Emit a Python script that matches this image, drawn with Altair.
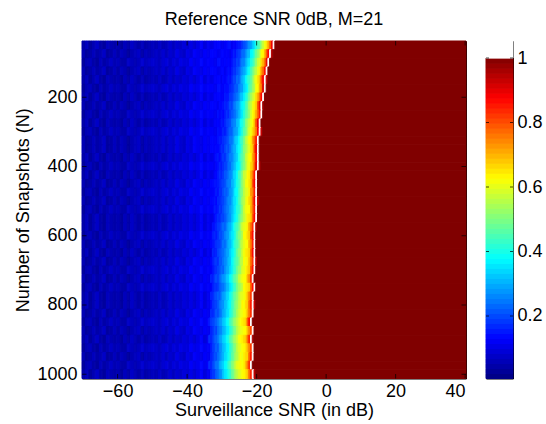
import altair as alt
import numpy as np
import pandas as pd

FONT = "Liberation Sans"
title_text = "Reference SNR 0dB, M=21"
x_title = "Surveillance SNR (in dB)"
y_title = "Number of Snapshots (N)"

# grid of the image (SNR in 0.5 dB steps, N in steps of 25)
snr_grid = np.arange(-70.0, 40.0001, 0.5)
n_grid = list(range(50, 1001, 25))

# column (SNR) of the white boundary cell, per row
white_snr = [-15.0, -16.0, -16.5, -17.0, -17.5, -17.5, -18.0, -18.5, -18.5, -19.0,
             -19.0, -19.5, -19.5, -19.5, -19.5, -20.0, -20.0, -20.0, -20.0, -20.0,
             -20.0, -20.5, -20.5, -20.5, -20.5, -20.5, -20.5, -21.0, -20.5, -21.0,
             -21.0, -21.0, -21.5, -21.0, -21.5, -21.0, -21.0, -21.5, -21.0]
# value (percent) of the cell just right of the white cell
after_white = [100, 95, 100, 100, 94, 100, 100, 97, 100, 100,
               93, 100, 100, 100, 96, 100, 100, 100, 94, 100,
               100, 97, 100, 100, 100, 95, 100, 100, 100, 100,
               93, 100, 100, 100, 96, 100, 100, 100, 94]
# values (percent) of the 24 cells left of the white cell, per row
ramps = [
    [11, 12, 12, 14, 15, 15, 18, 20, 21, 24, 27, 28, 32, 35, 40, 44, 46, 53, 57, 61, 65, 71, 78, 89],
    [12, 11, 13, 15, 14, 17, 18, 19, 23, 23, 26, 30, 31, 37, 38, 43, 48, 51, 55, 62, 63, 69, 79, 87],
    [12, 13, 12, 14, 16, 16, 19, 18, 22, 25, 25, 29, 33, 35, 40, 42, 47, 52, 57, 59, 66, 70, 76, 90],
    [11, 12, 14, 13, 15, 17, 17, 20, 21, 24, 27, 29, 31, 36, 39, 44, 48, 53, 56, 60, 64, 72, 77, 86],
    [13, 12, 13, 15, 14, 16, 19, 19, 23, 22, 26, 30, 32, 37, 41, 43, 46, 51, 58, 61, 65, 69, 80, 88],
    [12, 14, 13, 14, 16, 17, 18, 21, 21, 25, 27, 28, 33, 35, 38, 45, 47, 52, 55, 62, 63, 71, 76, 91],
    [12, 12, 15, 14, 15, 18, 18, 20, 22, 24, 26, 31, 32, 36, 40, 43, 49, 53, 57, 60, 66, 70, 78, 87],
    [13, 13, 14, 16, 15, 17, 20, 19, 23, 25, 28, 29, 34, 37, 39, 44, 47, 54, 56, 61, 64, 68, 79, 89],
    [12, 14, 13, 15, 17, 16, 19, 21, 22, 24, 27, 30, 33, 36, 41, 45, 48, 52, 58, 62, 65, 71, 77, 86],
    [13, 12, 15, 14, 16, 18, 19, 20, 24, 25, 26, 31, 32, 38, 40, 43, 50, 53, 57, 60, 63, 69, 80, 90],
    [14, 13, 14, 16, 15, 17, 20, 22, 22, 26, 28, 29, 34, 36, 41, 46, 48, 54, 59, 61, 66, 70, 76, 88],
    [12, 14, 15, 15, 17, 18, 19, 21, 24, 24, 27, 32, 33, 37, 42, 44, 49, 55, 58, 63, 64, 72, 78, 85],
    [13, 13, 14, 17, 16, 19, 21, 20, 23, 26, 29, 30, 35, 38, 40, 45, 51, 53, 57, 60, 65, 68, 81, 89],
    [14, 15, 13, 16, 18, 17, 20, 22, 25, 25, 28, 31, 33, 39, 43, 46, 49, 56, 59, 62, 63, 71, 77, 87],
    [13, 14, 16, 15, 17, 19, 19, 23, 23, 27, 29, 32, 36, 37, 41, 47, 50, 54, 60, 61, 66, 69, 79, 90],
    [12, 13, 15, 17, 16, 18, 21, 21, 24, 26, 27, 33, 34, 38, 44, 45, 51, 57, 58, 63, 64, 70, 76, 86],
    [14, 14, 15, 16, 18, 19, 20, 23, 25, 25, 30, 31, 35, 40, 42, 46, 52, 55, 61, 62, 65, 68, 80, 88],
    [13, 15, 14, 17, 17, 20, 22, 21, 24, 27, 28, 32, 37, 38, 43, 48, 50, 56, 59, 60, 64, 72, 75, 85],
    [14, 13, 16, 16, 18, 19, 21, 23, 26, 26, 29, 34, 35, 39, 44, 47, 53, 55, 60, 63, 66, 69, 78, 89],
    [15, 14, 15, 18, 17, 20, 22, 24, 25, 28, 30, 33, 36, 41, 42, 46, 51, 57, 61, 62, 63, 70, 77, 86],
    [13, 15, 17, 16, 19, 19, 21, 23, 26, 27, 31, 34, 37, 40, 45, 49, 52, 56, 59, 64, 65, 67, 79, 88],
    [14, 14, 16, 18, 18, 21, 23, 22, 25, 29, 30, 33, 38, 42, 44, 47, 53, 58, 60, 61, 64, 71, 76, 84],
    [15, 16, 15, 17, 20, 20, 22, 25, 27, 28, 32, 35, 36, 41, 46, 50, 51, 55, 62, 63, 66, 68, 80, 87],
    [14, 15, 17, 18, 18, 21, 24, 23, 26, 30, 31, 34, 39, 43, 45, 48, 54, 57, 60, 62, 63, 70, 75, 85],
    [16, 15, 16, 19, 20, 22, 23, 25, 28, 29, 33, 36, 38, 42, 47, 51, 52, 58, 61, 64, 65, 67, 78, 88],
    [15, 17, 18, 17, 21, 21, 24, 26, 27, 31, 32, 37, 40, 44, 46, 49, 55, 56, 62, 61, 64, 69, 76, 83],
    [14, 16, 17, 19, 20, 23, 22, 26, 29, 30, 34, 36, 41, 43, 48, 52, 53, 59, 60, 63, 66, 68, 79, 86],
    [16, 15, 18, 20, 19, 22, 25, 27, 28, 32, 33, 38, 40, 45, 47, 50, 56, 58, 61, 62, 63, 70, 74, 84],
    [15, 17, 17, 18, 21, 23, 24, 26, 30, 31, 35, 37, 42, 44, 49, 53, 54, 57, 62, 64, 65, 67, 77, 87],
    [16, 16, 19, 20, 22, 21, 25, 28, 29, 33, 34, 39, 41, 46, 48, 51, 55, 59, 60, 61, 64, 69, 75, 82],
    [14, 17, 18, 19, 21, 24, 26, 27, 31, 32, 36, 38, 43, 45, 50, 52, 56, 58, 63, 62, 66, 68, 78, 85],
    [17, 16, 18, 21, 20, 23, 25, 29, 30, 34, 35, 40, 42, 47, 49, 54, 57, 60, 61, 63, 64, 70, 76, 83],
    [15, 18, 19, 20, 22, 24, 27, 28, 32, 33, 37, 39, 44, 46, 51, 53, 56, 59, 62, 64, 65, 67, 79, 86],
    [16, 17, 20, 19, 23, 25, 26, 30, 31, 35, 36, 41, 43, 48, 50, 55, 58, 60, 61, 62, 63, 69, 74, 81],
    [17, 16, 18, 21, 22, 24, 28, 29, 33, 34, 38, 40, 45, 47, 52, 54, 57, 61, 63, 64, 66, 68, 77, 84],
    [15, 18, 19, 22, 21, 26, 27, 31, 32, 36, 37, 42, 44, 49, 51, 56, 59, 60, 62, 63, 65, 70, 75, 82],
    [16, 17, 20, 20, 23, 25, 28, 30, 34, 35, 39, 41, 46, 48, 53, 55, 58, 62, 61, 64, 66, 67, 78, 85],
    [17, 16, 19, 21, 24, 24, 29, 31, 33, 37, 38, 43, 45, 50, 52, 57, 60, 61, 63, 62, 64, 69, 76, 83],
    [16, 18, 18, 22, 23, 26, 27, 32, 35, 36, 40, 42, 47, 49, 54, 56, 59, 60, 62, 63, 65, 68, 77, 84],
]
# background (percent) for SNR -70 .. -27 in 1 dB steps, three variants
bg = {
    "a": [4, 6, 3, 5, 7, 4, 3, 6, 5, 4, 5, 3, 6, 4, 7, 5, 4, 6, 4, 5, 6, 5, 7, 5, 6,
          8, 6, 8, 7, 9, 8, 10, 8, 10, 12, 9, 11, 10, 12, 13, 11, 12, 14, 13],
    "b": [5, 3, 4, 6, 4, 5, 7, 3, 4, 6, 4, 6, 5, 3, 5, 6, 7, 4, 6, 5, 6, 7, 6, 8, 6,
          8, 7, 10, 8, 7, 10, 9, 12, 11, 10, 12, 11, 13, 12, 11, 13, 12, 12, 14],
    "c": [3, 5, 6, 4, 3, 6, 4, 5, 7, 5, 6, 4, 4, 7, 6, 5, 6, 8, 6, 7, 8, 7, 6, 8, 9,
          7, 9, 8, 10, 9, 9, 12, 10, 11, 13, 11, 12, 12, 11, 14, 12, 13, 15, 13],
}
row_bg = "abcbacabcacbbacabcbcaacbabcbcaabcbacbca"

x_ticks = [-60, -40, -20, 0, 20, 40]
y_ticks = [200, 400, 600, 800, 1000]
cbar_ticks = [0.2, 0.4, 0.6, 0.8, 1.0]
cbar_min, cbar_max = 0.006, 1.053

assert len(ramps) == len(n_grid) == len(white_snr) == len(after_white) == len(row_bg)
for r in ramps:
    assert len(r) == 24, r
for k in bg:
    assert len(bg[k]) == 44

records = []
for i, n in enumerate(n_grid):
    w = white_snr[i]
    ramp = ramps[i]
    start = w - 0.5 * len(ramp)
    bgl = bg[row_bg[i]]
    red_from = None
    for s in snr_grid:
        if s < start - 1e-9:
            v = bgl[int(np.floor(s)) + 70] / 100
        elif s < w - 1e-9:
            v = ramp[int(round((s - start) / 0.5))] / 100
        elif abs(s - w) < 1e-9:
            v = 2.0
        elif abs(s - (w + 0.5)) < 1e-9 and after_white[i] < 100:
            v = after_white[i] / 100
        else:
            red_from = s
            break
        records.append(dict(x0=s - 0.25, x1=s + 0.25, y0=n - 12.5, y1=n + 12.5, v=v))
    records.append(dict(x0=red_from - 0.25, x1=40.25, y0=n - 12.5, y1=n + 12.5, v=1.0))
df = pd.DataFrame(records)

jet = alt.Scale(domain=[0, 0.125, 0.375, 0.625, 0.875, 1.0, 1.0001, 2.0],
                range=["#000080", "#0000ff", "#00ffff", "#ffff00", "#ff0000",
                       "#800000", "#ffffff", "#ffffff"],
                interpolate="rgb", clamp=True)

xs = alt.Scale(domain=[-70.25, 40.25], nice=False, zero=False)
ys = alt.Scale(domain=[37.5, 1012.5], reverse=True, nice=False, zero=False)

x_axis = alt.Axis(values=x_ticks, format="d", title=x_title, grid=False, ticks=False,
                  domain=False, labelPadding=4, titlePadding=1)
y_axis = alt.Axis(values=y_ticks, format="d", title=y_title, grid=False, ticks=False,
                  domain=False, labelPadding=5, titlePadding=4)

W, H = 384, 337.5

heat = alt.Chart(df).mark_rect(strokeWidth=1).encode(
    x=alt.X("x0:Q", scale=xs, axis=x_axis, title=x_title),
    x2="x1:Q",
    y=alt.Y("y0:Q", scale=ys, axis=y_axis, title=y_title),
    y2="y1:Q",
    color=alt.Color("v:Q", scale=jet, legend=None),
    stroke=alt.Stroke("v:Q", scale=jet, legend=None),
)

xt = pd.DataFrame([(t, e) for t in x_ticks for e in [37.5, 1012.5]], columns=["t", "e"])
yt = pd.DataFrame([(t, e) for t in y_ticks for e in [-70.25, 40.25]], columns=["t", "e"])

xtick_layer = alt.Chart(xt).mark_tick(orient="vertical", size=9, thickness=1,
                                      color="black", clip=True).encode(
    x=alt.X("t:Q", scale=xs, axis=x_axis, title=x_title),
    y=alt.Y("e:Q", scale=ys, axis=y_axis, title=y_title))
ytick_layer = alt.Chart(yt).mark_tick(orient="horizontal", size=9, thickness=1,
                                      color="black", clip=True).encode(
    y=alt.Y("t:Q", scale=ys, axis=y_axis, title=y_title),
    x=alt.X("e:Q", scale=xs, axis=x_axis, title=x_title))

main = alt.layer(heat, xtick_layer, ytick_layer).properties(
    width=W, height=H,
    title=alt.TitleParams(title_text, anchor="middle", offset=12),
)

# colorbar: 64 jet levels from cbar_min to 1, white above 1
nlev = 64
step = (1.0 - cbar_min) / nlev
cb_rows = []
for k in range(nlev):
    lo = cbar_min + k * step
    cb_rows.append(dict(y0=lo, y1=lo + step, v=(k + 0.5) / nlev, c0=0, c1=1))
cb_rows.append(dict(y0=1.0, y1=cbar_max, v=2.0, c0=0, c1=1))
cb_df = pd.DataFrame(cb_rows)

cs = alt.Scale(domain=[cbar_min, cbar_max], nice=False, zero=False)
cx = alt.Scale(domain=[0, 1], nice=False, zero=False)
c_axis = alt.Axis(orient="right", values=cbar_ticks, title=None, grid=False, ticks=False,
                  domain=False, labelPadding=4,
                  labelExpr="datum.value == 1 ? '1' : format(datum.value, '.1f')")
cbar_rect = alt.Chart(cb_df).mark_rect(strokeWidth=1).encode(
    x=alt.X("c0:Q", scale=cx, axis=None),
    x2="c1:Q",
    y=alt.Y("y0:Q", scale=cs, axis=c_axis, title=None),
    y2="y1:Q",
    color=alt.Color("v:Q", scale=jet, legend=None),
    stroke=alt.Stroke("v:Q", scale=jet, legend=None),
)
ct = pd.DataFrame([(t, e) for t in cbar_ticks for e in [0, 1]], columns=["t", "e"])
cbar_ticks_layer = alt.Chart(ct).mark_tick(orient="horizontal", size=6, thickness=1,
                                           color="black", clip=True).encode(
    y=alt.Y("t:Q", scale=cs, axis=c_axis, title=None),
    x=alt.X("e:Q", scale=cx, axis=None))
cbar = alt.layer(cbar_rect, cbar_ticks_layer).properties(width=27, height=H)

chart = alt.hconcat(main, cbar, spacing=20, bounds="flush").properties(
    padding={"left": 14, "top": 10, "right": 0, "bottom": 0},
    background="white",
).configure(font=FONT).configure_view(
    stroke="black", strokeWidth=1
).configure_axis(
    labelFont=FONT, titleFont=FONT, labelFontSize=18, titleFontSize=18,
    labelColor="black", titleColor="black", titleFontWeight="normal",
).configure_title(
    font=FONT, fontSize=18, fontWeight="normal", color="black"
)

chart.save("out.html", embed_options={"renderer": "svg", "actions": False})
